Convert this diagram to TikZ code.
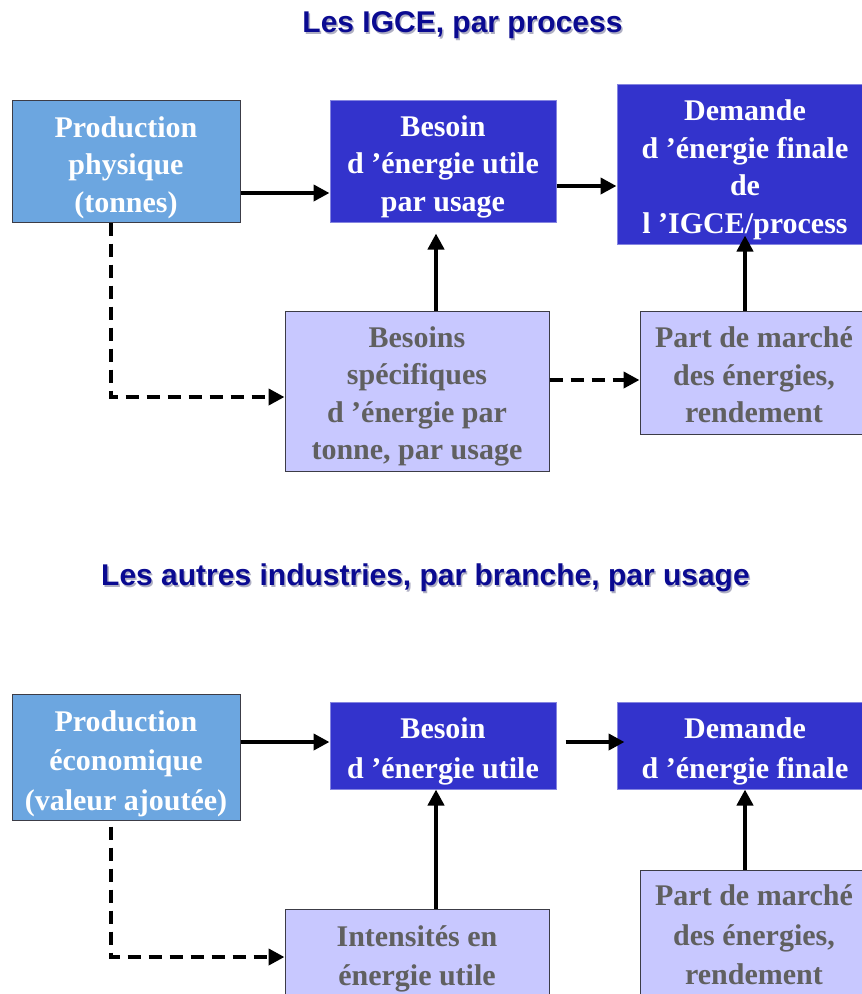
\documentclass[tikz,border=0pt]{standalone}
\usepackage{fontspec}
\setmainfont{Liberation Serif}
\newfontfamily\titlefont{Liberation Sans}
\usetikzlibrary{arrows.meta}
\definecolor{lightblue}{RGB}{108,166,224}
\definecolor{darkblue}{RGB}{51,51,204}
\definecolor{lavender}{RGB}{200,200,255}
\definecolor{greytext}{RGB}{96,96,96}
\definecolor{boxborder}{RGB}{60,60,70}
\definecolor{navy}{RGB}{10,10,145}
\definecolor{shadowgrey}{RGB}{175,175,195}
\tikzset{
  box/.style={rectangle, inner sep=0pt, line width=1pt, label distance=0pt},
  topfont/.style={font=\fontsize{30}{37.5}\selectfont\bfseries, align=center, inner sep=0pt},
  botfont/.style={font=\fontsize{30}{39.5}\selectfont\bfseries, align=center, inner sep=0pt},
  inbox/.style={box, fill=lightblue, draw=boxborder},
  midbox/.style={box, fill=darkblue, draw=darkblue!60!white},
  parbox/.style={box, fill=lavender, draw=boxborder},
  wtext/.style={text=white},
  gtext/.style={text=greytext},
  arr/.style={line width=4pt, -{Triangle[length=16pt,width=16pt]}},
  darr/.style={arr, dash pattern=on 13pt off 8pt},
  titletext/.style={font=\titlefont\fontsize{30}{36}\selectfont\bfseries, inner sep=0pt},
}
\begin{document}
\begin{tikzpicture}[x=1pt,y=-1pt]
\useasboundingbox (0,0) rectangle (862,994);
\fill[white] (0,0) rectangle (862,994);
\clip (0,0) rectangle (862,994);

% titles
\node[titletext, text=shadowgrey] (t1s) at (464,27) {Les IGCE, par process};
\node[titletext, text=navy] (t1) at (462.5,25.5) {Les IGCE, par process};
\node[titletext, text=shadowgrey] (t2s) at (427,579.5) {Les autres industries, par branche, par usage};
\node[titletext, text=navy] (t2) at (425.5,578) {Les autres industries, par branche, par usage};

% top section
\node[inbox, minimum width=228pt, minimum height=122pt,
  label={[topfont, wtext, yshift=-6.5pt]center:{Production\\physique\\(tonnes)}}] (pp) at (126,161) {};
\node[midbox, minimum width=226pt, minimum height=122pt,
  label={[topfont, wtext, yshift=-5.5pt]center:{Besoin\\d ’énergie utile\\par usage}}] (b1) at (443,161) {};
\node[midbox, minimum width=256pt, minimum height=160pt,
  label={[topfont, wtext, yshift=-6pt]center:{Demande\\d ’énergie finale\\de\\l ’IGCE/process}}] (d1) at (745,164) {};
\node[parbox, minimum width=264pt, minimum height=160pt,
  label={[topfont, gtext, yshift=-5.5pt]center:{Besoins\\spécifiques\\d ’énergie par\\tonne, par usage}}] (bs) at (417,391) {};
\node[parbox, minimum width=228pt, minimum height=123pt,
  label={[topfont, gtext, yshift=-2.5pt]center:{Part de marché\\des énergies,\\rendement}}] (pm1) at (754,372.5) {};

\draw[arr] ([yshift=-32pt]pp.east) -- ([yshift=-32pt]pp.east -| b1.west);
\draw[arr] ([yshift=-25pt]b1.east) -- ([yshift=-25pt]b1.east -| d1.west);
\draw[arr, shorten >=11pt] ([xshift=19pt]bs.north) -- ([xshift=19pt]bs.north |- b1.south);
\draw[arr, shorten >=-9pt] ([xshift=-9pt]pm1.north) -- ([xshift=-9pt]pm1.north |- d1.south);
\draw[darr] ([xshift=-15pt]pp.south) |- ([yshift=-6pt]bs.west);
\draw[darr] ([yshift=11pt]bs.east) -- ([yshift=11pt]bs.east -| pm1.west);

% bottom section
\node[inbox, minimum width=228pt, minimum height=126pt,
  label={[botfont, wtext, yshift=-6.5pt]center:{Production\\économique\\(valeur ajoutée)}}] (pe) at (126,757) {};
\node[midbox, minimum width=226pt, minimum height=87pt,
  label={[botfont, wtext, yshift=-6pt]center:{Besoin\\d ’énergie utile}}] (b2) at (443,745.5) {};
\node[midbox, minimum width=256pt, minimum height=87pt,
  label={[botfont, wtext, yshift=-6pt]center:{Demande\\d ’énergie finale}}] (d2) at (745,745.5) {};
\node[parbox, minimum width=264pt, minimum height=96pt,
  label={[botfont, gtext, yshift=-2pt]center:{Intensités en\\énergie utile}}] (in) at (417,957) {};
\node[parbox, minimum width=228pt, minimum height=130pt,
  label={[botfont, gtext, yshift=0pt]center:{Part de marché\\des énergies,\\rendement}}] (pm2) at (754,935) {};

\draw[arr] ([yshift=15pt]pe.east) -- ([yshift=15pt]pe.east -| b2.west);
\draw[arr, shorten <=9pt, shorten >=-8pt] ([yshift=3.5pt]b2.east) -- ([yshift=3.5pt]b2.east -| d2.west);
\draw[arr] ([xshift=19pt]in.north) -- ([xshift=19pt]in.north |- b2.south);
\draw[arr] ([xshift=-9pt]pm2.north) -- ([xshift=-9pt]pm2.north |- d2.south);
\draw[darr, shorten <=6pt] ([xshift=-15pt]pe.south) |- (in.west);
\end{tikzpicture}
\end{document}
